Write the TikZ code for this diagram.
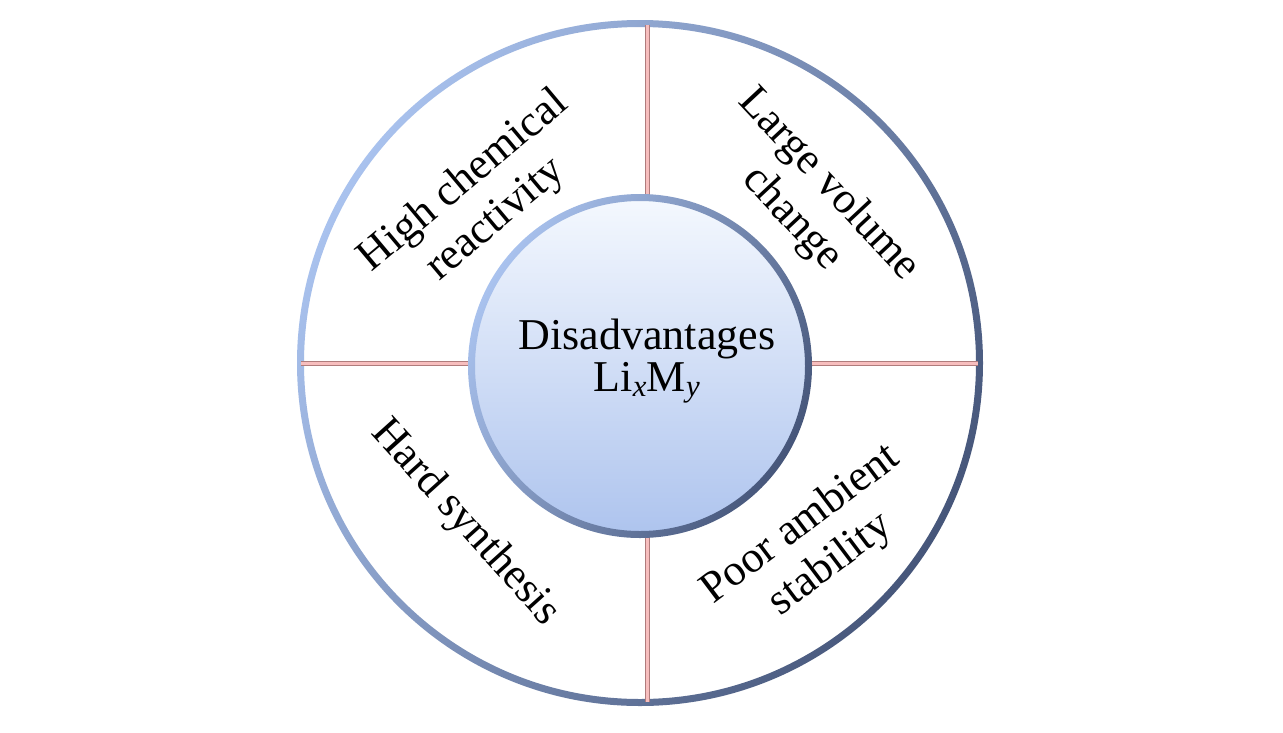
\documentclass[tikz,border=0pt]{standalone}
\usepackage{fontspec}
\setmainfont{Liberation Serif}
\definecolor{ringlight}{HTML}{A9C2EE}
\definecolor{ringmid}{HTML}{8098C8}
\definecolor{ringdark}{HTML}{46567A}
\definecolor{innertop}{HTML}{F4F8FE}
\definecolor{innerbot}{HTML}{AEC4EE}
\definecolor{divedge}{HTML}{B07C7C}
\definecolor{divfill}{HTML}{F7BEBE}
\begin{document}
\begin{tikzpicture}[x=1pt,y=-1pt,
  lbl/.style={font=\fontsize{44}{50}\selectfont, align=center, inner sep=0pt, text=black},
  ctr/.style={font=\fontsize{44}{42}\selectfont, align=center, inner sep=0pt, text=black},
  ring/.style={even odd rule, top color=ringlight, middle color=ringmid, bottom color=ringdark, shading angle=60},
  divider/.style={draw=divedge, line width=5pt},
  dividerin/.style={draw=divfill, line width=3pt}]
\useasboundingbox (0,0) rectangle (1283,732);
\fill[white] (0,0) rectangle (1283,732);
% outer ring
\coordinate (oc) at (640,363);
\shade[ring] (oc) circle (343) (oc) circle (336);
% dividers
\coordinate (lo) at (301,363);
\coordinate (li) at (470,363);
\coordinate (ro) at (978,363);
\coordinate (ri) at (810,363);
\coordinate (to) at (647,25);
\coordinate (ti) at (647,196);
\coordinate (bo) at (647,702);
\coordinate (bi) at (647,536);
\foreach \a/\b in {lo/li, ri/ro, to/ti, bi/bo}{
  \draw[divider] (\a) -- (\b);
  \draw[dividerin] (\a) -- (\b);
}
% inner disc
\node[circle, minimum size=334pt, inner sep=0pt, top color=innertop, bottom color=innerbot] (inner) at (640,366) {};
\shade[ring] (inner.center) circle (172) (inner.center) circle (165);
% texts
\node[ctr] (title) at (647,361) {Disadvantages\\Li\textsubscript{\textit{x}}M\textsubscript{\textit{y}}};
\node[lbl, rotate=40] (hcr) at (480,201) {High chemical\\reactivity};
\node[lbl, rotate=-47] (lvc) at (810,202) {Large volume\\change};
\node[lbl, rotate=-48] (hs) at (465,523) {Hard synthesis};
\node[lbl, rotate=37] (pas) at (816,545) {Poor ambient\\stability};
\end{tikzpicture}
\end{document}
